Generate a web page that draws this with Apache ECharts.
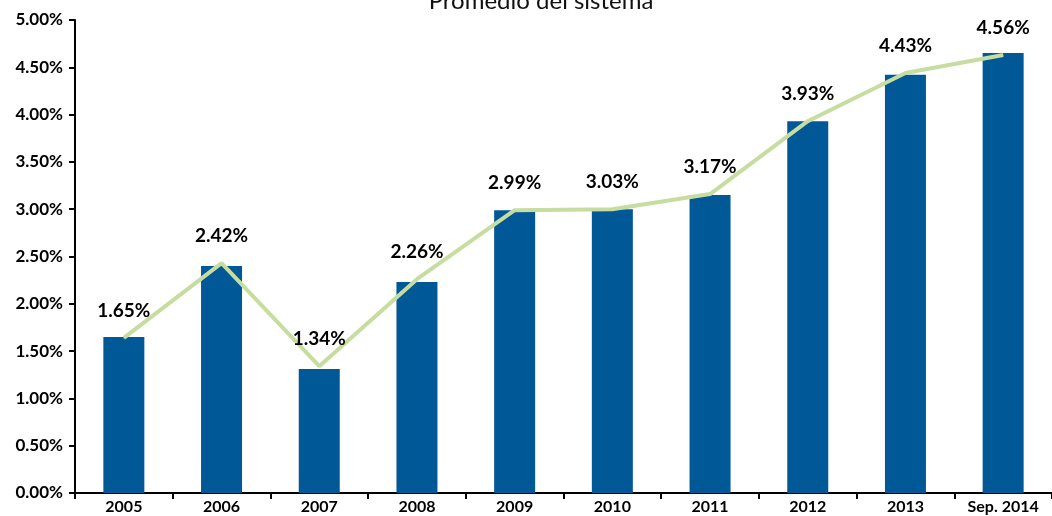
<!DOCTYPE html>
<html>
<head>
<meta charset="utf-8">
<title>Promedio del sistema</title>
<script src="https://cdn.jsdelivr.net/npm/echarts@6/dist/echarts.min.js"></script>
<style>
  html, body { margin: 0; padding: 0; background: #fff; }
  #chart { width: 1052px; height: 516px; }
</style>
</head>
<body>
<div id="chart"></div>
<script>
// categorias y valores
var categories = ['2005', '2006', '2007', '2008', '2009', '2010', '2011', '2012', '2013', 'Sep. 2014'];
var barValues = [1.65, 2.40, 1.31, 2.23, 2.99, 3.00, 3.15, 3.93, 4.42, 4.65];
var lineValues = [1.64, 2.43, 1.34, 2.26, 2.99, 3.00, 3.16, 3.93, 4.44, 4.63];
var labelTexts = ['1.65%', '2.42%', '1.34%', '2.26%', '2.99%', '3.03%', '3.17%', '3.93%', '4.43%', '4.56%'];
var yTicks = [0, 0.5, 1, 1.5, 2, 2.5, 3, 3.5, 4, 4.5, 5];

var font = 'Lato, "Open Sans", sans-serif';
var chart = echarts.init(document.getElementById('chart'));

var option = {
    animation: false,
    title: {
        text: 'Promedio del sistema',
        left: 536,
        textAlign: 'center',
        top: -16,
        textStyle: { fontFamily: font, fontSize: 24, fontWeight: 'normal', color: '#111' }
    },
    grid: { left: 75, right: -10, top: 20, bottom: 23 },
    xAxis: {
        type: 'category',
        data: categories,
        axisLine: { lineStyle: { color: '#000', width: 2 } },
        axisTick: { show: true, length: 6, lineStyle: { color: '#000', width: 2 } },
        axisLabel: { color: '#000', fontFamily: font, fontWeight: 'bold', fontSize: 16, margin: 6 }
    },
    yAxis: {
        type: 'value',
        min: yTicks[0],
        max: yTicks[yTicks.length - 1],
        interval: 0.5,
        axisLine: { show: true, lineStyle: { color: '#000', width: 2 } },
        axisTick: { show: true, length: 6, lineStyle: { color: '#000', width: 2 } },
        splitLine: { show: false },
        axisLabel: {
            color: '#000', fontFamily: font, fontWeight: 'bold', fontSize: 17, margin: 12,
            formatter: function (v) { return v.toFixed(2) + '%'; }
        }
    },
    series: [
        {
            name: 'barras',
            type: 'bar',
            data: barValues,
            barWidth: 41,
            itemStyle: { color: '#005896' }
        },
        {
            name: 'promedio',
            type: 'line',
            data: lineValues,
            showSymbol: true,
            symbol: 'circle',
            symbolSize: 1,
            itemStyle: { color: '#c6dd9f' },
            lineStyle: { color: '#c6dd9f', width: 4 },
            label: {
                show: true,
                position: 'top',
                distance: 17,
                color: '#000',
                fontFamily: font,
                fontWeight: 'bold',
                fontSize: 19,
                formatter: function (p) { return labelTexts[p.dataIndex]; }
            },
            z: 3
        }
    ]
};
chart.setOption(option);
</script>
</body>
</html>
